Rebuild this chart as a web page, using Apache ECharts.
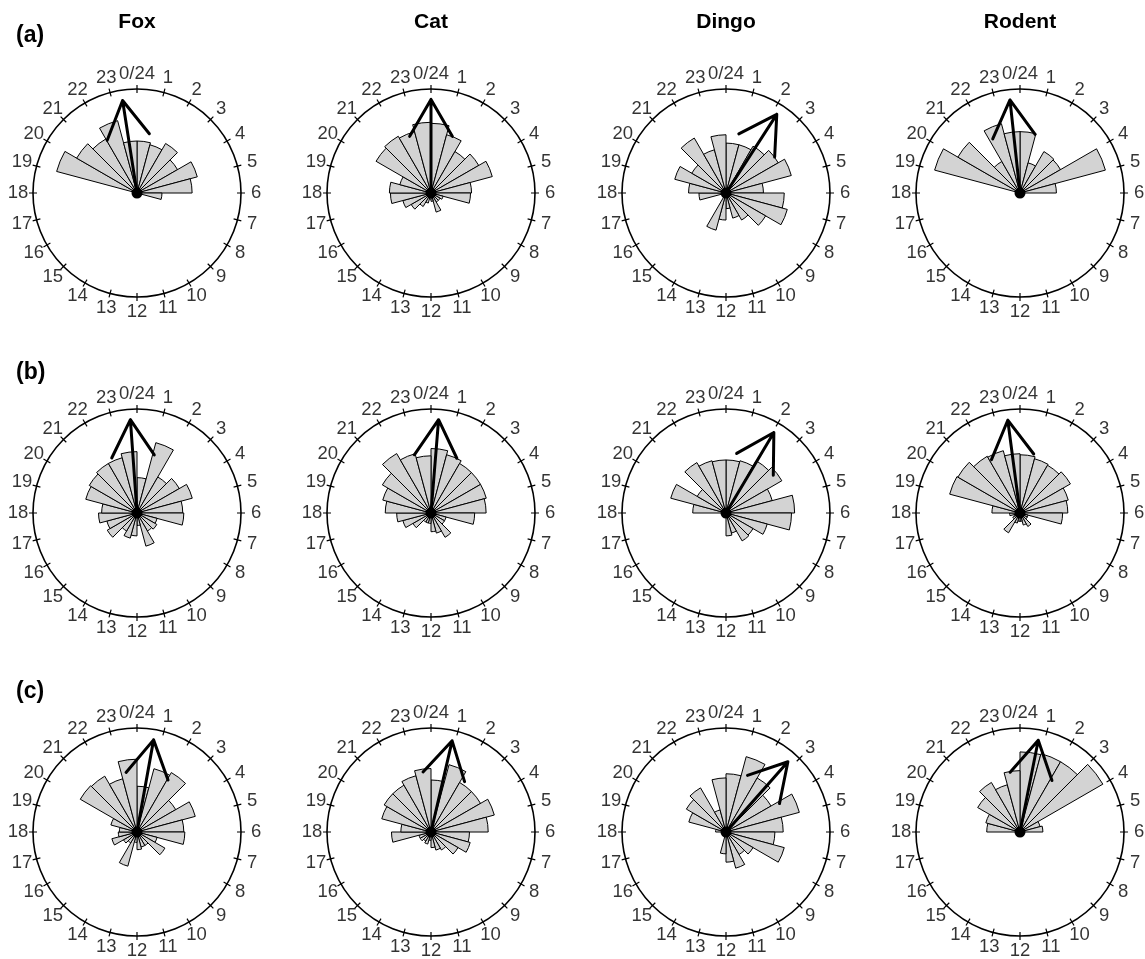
<!DOCTYPE html>
<html>
<head>
<meta charset="utf-8">
<script src="https://cdn.jsdelivr.net/npm/echarts@6/dist/echarts.min.js"></script>
<style>
  html, body { margin: 0; background: #fff; }
  #chart { width: 1145px; height: 959px; }
</style>
</head>
<body>
<div id="chart"></div>
<script>
// hour bins, bin h covers [h, h+1)
var hours = ['0','1','2','3','4','5','6','7','8','9','10','11','12','13','14','15','16','17','18','19','20','21','22','23'];
var hourTicks = [0,1,2,3,4,5,6,7,8,9,10,11,12,13,14,15,16,17,18,19,20,21,22,23];
var animals = ['Fox', 'Cat', 'Dingo', 'Rodent'];
var panels = ['(a)', '(b)', '(c)'];

// rose bar lengths (relative to the outer ring = 1)
var foxA    = [0.50,0.48,0.55,0.45,0.60,0.53,0.24,0,0,0,0,0,0,0,0,0,0,0,0,0.80,0.67,0.60,0.72,0.50];
var catA    = [0.67,0.58,0.46,0.53,0.61,0.39,0.38,0.12,0.10,0.10,0.19,0.08,0.06,0.10,0.15,0.22,0.28,0.39,0.40,0.31,0.61,0.63,0.61,0.68];
var dingoA  = [0.48,0.48,0.52,0.58,0.65,0.36,0.56,0.61,0.44,0.30,0.25,0.15,0.26,0.37,0,0,0,0.26,0.36,0.51,0.38,0.61,0.43,0.56];
var rodentA = [0.59,0.30,0.46,0.45,0.85,0.35,0,0,0,0,0,0,0,0,0,0,0,0,0,0.85,0.69,0.35,0.69,0.59];

var foxB    = [0.34,0.70,0.40,0.47,0.55,0.44,0.45,0.20,0.22,0.20,0.33,0.12,0.22,0.25,0.20,0.33,0.30,0.37,0.34,0.51,0.53,0.55,0.55,0.59];
var catB    = [0.62,0.58,0.55,0.55,0.55,0.53,0.42,0.15,0.15,0.27,0.20,0.18,0.10,0.10,0.10,0.20,0.28,0.33,0.44,0.48,0.54,0.66,0.59,0.55];
var dingoB  = [0.51,0.52,0.58,0.62,0.46,0.66,0.63,0.41,0.30,0.31,0.20,0.22,0,0,0,0,0,0,0.32,0.55,0.32,0.56,0.52,0.51];
var rodentB = [0.56,0.54,0.53,0.56,0.48,0.46,0.41,0.08,0.08,0.15,0.12,0.08,0.08,0.10,0.22,0.08,0.06,0.10,0.27,0.70,0.69,0.63,0.62,0.57];

var foxC    = [0.44,0.63,0.66,0.43,0.58,0.45,0.46,0.20,0.31,0.15,0.15,0.17,0.10,0.34,0.12,0.15,0.25,0.18,0.17,0.26,0.63,0.62,0.53,0.70];
var catC    = [0.50,0.67,0.55,0.55,0.63,0.55,0.37,0.39,0.30,0.20,0.18,0.15,0.08,0.12,0.10,0.12,0.12,0.38,0.29,0.49,0.52,0.52,0.56,0.61];
var dingoC  = [0.56,0.75,0.60,0.50,0.73,0.55,0.47,0.58,0.30,0.25,0.36,0.29,0.21,0,0,0,0,0,0.10,0.37,0.44,0.49,0.22,0.52];
var rodentC = [0.77,0.78,0.78,0.92,0.20,0.22,0,0,0,0,0,0,0,0,0,0,0,0,0.32,0.34,0.47,0.55,0.47,0.59];

// mean activity direction (hour) for each panel
var meanA = [23.41, 0.00, 2.19, 23.59];
var meanB = [23.73, 0.31, 2.05, 23.50];
var meanC = [0.68, 0.87, 2.76, 0.75];
var meanLen = 0.9;

var roseData = [[foxA, catA, dingoA, rodentA], [foxB, catB, dingoB, rodentB], [foxC, catC, dingoC, rodentC]];
var meanData = [meanA, meanB, meanC];

var colX = [137, 431, 726, 1020];
var rowY = [193, 513, 832];
var R = 104;
var labelR = 1.145;
var headLen = 0.41, headAngle = Math.PI / 6;
var FONT = 'Liberation Sans';

function hourLabel(v) {
  return v === 0 ? '0/24' : String(v);
}

// arrow: centre -> tip -> left barb -> tip -> right barb, as [radius, hour]
function arrowPath(hour, len) {
  var t = hour * Math.PI / 12;
  var tx = len * Math.sin(t), ty = len * Math.cos(t);
  var barbs = [-1, 1].map(function (s) {
    var a = t + Math.PI + s * headAngle;
    var x = tx + headLen * Math.sin(a), y = ty + headLen * Math.cos(a);
    var h = Math.atan2(x, y) * 12 / Math.PI;
    if (h < 0) h += 24;
    return [Math.sqrt(x * x + y * y), h];
  });
  return [
    { value: [0, hour], symbol: 'circle', symbolSize: 11 },
    { value: [len, hour], symbol: 'none' },
    { value: barbs[0], symbol: 'none' },
    { value: [len, hour], symbol: 'none' },
    { value: barbs[1], symbol: 'none' }
  ];
}

var polar = [], angleAxis = [], radiusAxis = [], series = [], graphic = [];

panels.forEach(function (p, i) {
  animals.forEach(function (name, j) {
    var c = [colX[j], rowY[i]];
    var k = polar.length;

    // ring with outer half of ticks
    polar.push({ center: c, radius: R });
    angleAxis.push({
      polarIndex: k, type: 'value', min: 0, max: 24, interval: 1,
      startAngle: 90, clockwise: true,
      axisLine: { lineStyle: { color: '#000', width: 1.6 } },
      axisTick: { length: 4, lineStyle: { color: '#000', width: 1.2 } },
      axisLabel: { show: false },
      splitLine: { show: false }
    });
    radiusAxis.push({ polarIndex: k, min: 0, max: 1, show: false });

    // inner half of ticks
    polar.push({ center: c, radius: R - 4 });
    angleAxis.push({
      polarIndex: k + 1, type: 'value', min: 0, max: 24, interval: 1,
      startAngle: 90, clockwise: true,
      axisLine: { show: false },
      axisTick: { length: 4, lineStyle: { color: '#000', width: 1.2 } },
      axisLabel: { show: false },
      splitLine: { show: false }
    });
    radiusAxis.push({ polarIndex: k + 1, min: 0, max: 1, show: false });

    // rose bars
    polar.push({ center: c, radius: R });
    angleAxis.push({
      polarIndex: k + 2, type: 'category', data: hours, boundaryGap: true,
      startAngle: 90, clockwise: true, show: false
    });
    radiusAxis.push({ polarIndex: k + 2, min: 0, max: 1, show: false });

    series.push({
      type: 'bar', coordinateSystem: 'polar', polarIndex: k + 2,
      data: roseData[i][j],
      barCategoryGap: '0%', barGap: '0%',
      itemStyle: { color: '#d3d3d3', borderColor: '#000', borderWidth: 1 },
      silent: true, z: 2
    });

    // hour labels, centred at a fixed radius outside the ring
    series.push({
      type: 'scatter', coordinateSystem: 'polar', polarIndex: k,
      data: hourTicks.map(function (h) { return [labelR, h]; }),
      symbolSize: 1, clip: false,
      itemStyle: { color: 'rgba(0,0,0,0)' },
      label: {
        show: true, position: 'inside', color: '#000',
        textBorderWidth: 0,
        fontSize: 18.5, fontFamily: FONT,
        formatter: function (d) { return hourLabel(d.value[1]); }
      },
      silent: true, z: 3
    });

    series.push({
      type: 'line', coordinateSystem: 'polar', polarIndex: k,
      data: arrowPath(meanData[i][j], meanLen),
      showSymbol: true,
      itemStyle: { color: '#000' },
      lineStyle: { color: '#000', width: 3, cap: 'round', join: 'round' },
      silent: true, z: 5
    });
  });
});

animals.forEach(function (name, j) {
  graphic.push({
    type: 'text', x: colX[j], y: 22,
    style: { text: name, font: 'bold 21px ' + FONT, fill: '#000',
      align: 'center', verticalAlign: 'middle', textAlign: 'center', textVerticalAlign: 'middle' }
  });
});
var panelY = [36, 373, 692];
panels.forEach(function (p, i) {
  graphic.push({
    type: 'text', x: 16, y: panelY[i],
    style: { text: p, font: 'bold 23px ' + FONT, fill: '#000',
      align: 'left', verticalAlign: 'middle', textAlign: 'left', textVerticalAlign: 'middle' }
  });
});

var chart = echarts.init(document.getElementById('chart'));
chart.setOption({
  backgroundColor: '#fff',
  animation: false,
  polar: polar,
  angleAxis: angleAxis,
  radiusAxis: radiusAxis,
  series: series,
  graphic: graphic
});
</script>
</body>
</html>
